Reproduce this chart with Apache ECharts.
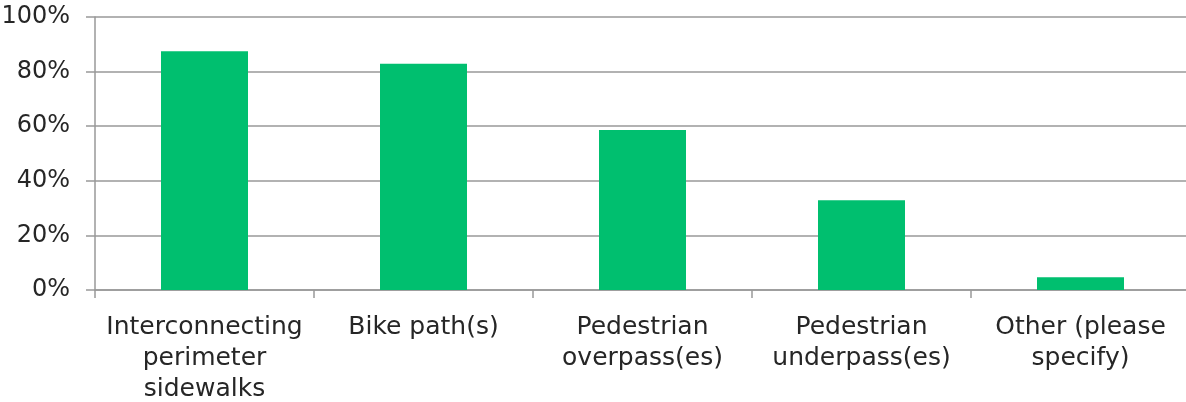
<!DOCTYPE html>
<html>
<head>
<meta charset="utf-8">
<script src="https://cdn.jsdelivr.net/npm/echarts@6/dist/echarts.min.js"></script>
<style>
  html, body { margin: 0; padding: 0; background: #fff; }
  #chart { width: 1186px; height: 402px; }
</style>
</head>
<body>
<div id="chart"></div>
<script>
// 分类与数值
const categories = [
  'Interconnecting\nperimeter\nsidewalks',
  'Bike path(s)',
  'Pedestrian\noverpass(es)',
  'Pedestrian\nunderpass(es)',
  'Other (please\nspecify)'
];
const values = [87.5, 82.9, 58.6, 32.9, 4.7];
const yTicks = [0, 20, 40, 60, 80, 100];

const barColor = '#00BF6F';
const gridColor = '#999999';
const textColor = '#262626';
const fontFamily = '"DejaVu Sans", sans-serif';

const chart = echarts.init(document.getElementById('chart'));

chart.setOption({
  animation: false,
  // 绘图区右侧超出画布一点，与原图一致
  grid: {
    left: 95, top: 17, width: 1095, height: 273,
    containLabel: false,
    outerBoundsMode: 'none'
  },
  xAxis: {
    type: 'category',
    data: categories,
    axisLine: { lineStyle: { color: gridColor, width: 1.5 } },
    axisTick: { show: true, length: 8, lineStyle: { color: gridColor, width: 1.5 } },
    axisLabel: {
      interval: 0,
      margin: 22,
      color: textColor,
      fontSize: 25,
      lineHeight: 31,
      fontFamily: fontFamily
    }
  },
  yAxis: {
    type: 'value',
    min: yTicks[0],
    max: yTicks[yTicks.length - 1],
    interval: 20,
    axisLine: { show: true, lineStyle: { color: gridColor, width: 1.5 } },
    axisTick: { show: true, length: 9, inside: false, lineStyle: { color: gridColor, width: 1.5 } },
    splitLine: { lineStyle: { color: gridColor, width: 1.5 } },
    axisLabel: {
      margin: 25,
      color: textColor,
      fontSize: 24,
      fontFamily: fontFamily,
      formatter: v => v + '%'
    }
  },
  series: [{
    type: 'bar',
    data: values,
    barWidth: 87,
    itemStyle: { color: barColor }
  }]
});
</script>
</body>
</html>
